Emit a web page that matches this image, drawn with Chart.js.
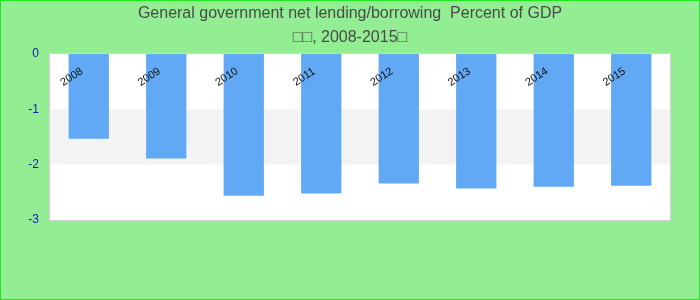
<!DOCTYPE html>
<html lang="en">
<head>
    <meta charset="UTF-8">
    <title>General government net lending/borrowing</title>
    <script src="https://cdn.jsdelivr.net/npm/chart.js"></script>
    <style>
        body { margin: 0; background: #fff; }
        canvas { display: block; }
    </style>
</head>
<body>
    <canvas id="mycanvas" width="700" height="300"></canvas>

    <script>
        // data
        var years = ['2008', '2009', '2010', '2011', '2012', '2013', '2014', '2015'];
        var lending = [-1.53, -1.89, -2.56, -2.52, -2.34, -2.43, -2.40, -2.38];
        var yTicks = [0, -1, -2, -3];
        var titleLines = ['General government net lending/borrowing  Percent of GDP', '\u25A1\u25A1, 2008-2015\u25A1'];

        // background, title, bands and the rotated year labels
        var decor = {
            id: 'decor',
            beforeDraw: function (chart) {
                var ctx = chart.ctx;
                var a = chart.chartArea;
                var y = chart.scales.y;
                ctx.save();
                ctx.fillStyle = '#93ee93';
                ctx.fillRect(0, 0, chart.width, chart.height);
                ctx.strokeStyle = '#22e622';
                ctx.lineWidth = 1;
                ctx.strokeRect(0.5, 0.5, chart.width - 1, chart.height - 1);

                ctx.fillStyle = '#ffffff';
                ctx.fillRect(a.left, a.top, a.right - a.left, a.bottom - a.top);
                ctx.fillStyle = '#f3f3f3';
                var b1 = y.getPixelForValue(-1), b2 = y.getPixelForValue(-2);
                ctx.fillRect(a.left, b1, a.right - a.left, b2 - b1);
                ctx.strokeStyle = '#d4d4d4';
                ctx.strokeRect(a.left - 0.5, a.top - 0.5, a.right - a.left + 1, a.bottom - a.top + 1);

                ctx.fillStyle = '#4a4a4a';
                ctx.font = '16px "Liberation Sans", Arial, sans-serif';
                ctx.textAlign = 'center';
                ctx.textBaseline = 'middle';
                ctx.fillText(titleLines[0], 350, 14);
                ctx.fillText(titleLines[1], 350, 38);
                ctx.restore();
            },
            afterDatasetsDraw: function (chart) {
                var ctx = chart.ctx;
                var x = chart.scales.x;
                var y = chart.scales.y;
                ctx.save();
                ctx.fillStyle = '#111';
                ctx.font = '11px "Liberation Sans", Arial, sans-serif';
                ctx.textAlign = 'center';
                ctx.textBaseline = 'middle';
                for (var i = 0; i < years.length; i++) {
                    ctx.save();
                    ctx.translate(x.getPixelForValue(i) - 17, y.getPixelForValue(0) + 23);
                    ctx.rotate(-33 * Math.PI / 180);
                    ctx.fillText(years[i], 0, 0);
                    ctx.restore();
                }
                ctx.restore();
            }
        };

        var ctx = document.getElementById('mycanvas').getContext('2d');
        new Chart(ctx, {
            type: 'bar',
            data: {
                labels: years,
                datasets: [{
                    data: lending,
                    backgroundColor: '#62a9f5',
                    categoryPercentage: 1,
                    barPercentage: 0.52
                }]
            },
            options: {
                responsive: false,
                animation: false,
                layout: { padding: { left: 0, top: 54, right: 30, bottom: 80 } },
                plugins: {
                    legend: { display: false },
                    title: { display: false },
                    tooltip: { enabled: false }
                },
                scales: {
                    x: { display: false },
                    y: {
                        min: -3,
                        max: 0,
                        afterFit: function (s) { s.width = 50; },
                        afterBuildTicks: function (s) {
                            s.ticks = yTicks.map(function (v) { return { value: v }; });
                        },
                        border: { display: false },
                        grid: { display: false, drawTicks: false },
                        ticks: {
                            color: '#1a1aa0',
                            padding: 11,
                            font: { size: 12, family: '"Liberation Sans", Arial, sans-serif' }
                        }
                    }
                }
            },
            plugins: [decor]
        });
    </script>
</body>
</html>
